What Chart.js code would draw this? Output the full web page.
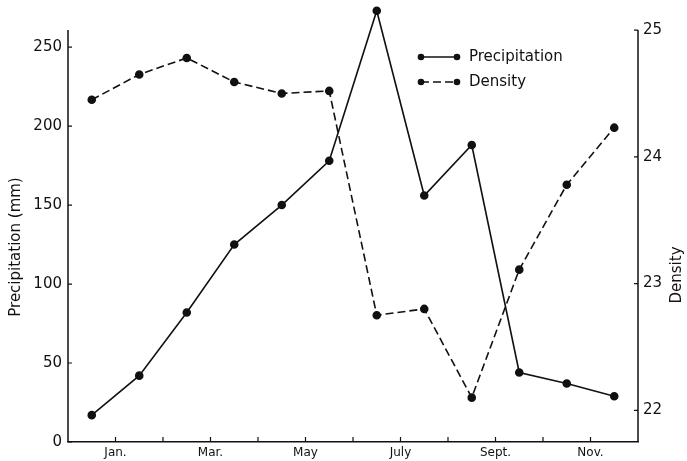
<!DOCTYPE html>
<html lang="en">
<head>
<meta charset="UTF-8">
<title>Precipitation and Density</title>
<script src="https://cdn.jsdelivr.net/npm/chart.js"></script>
<style>
  html, body { margin: 0; padding: 0; background: #fff; }
  #wrap { width: 687px; height: 461px; }
</style>
</head>
<body>
<div id="wrap"><canvas id="chart"></canvas></div>
<script>
// tick labels sit on month boundaries, points fall mid-month (Dec .. Nov)
const monthTicks = ['Jan.', '', 'Mar.', '', 'May', '', 'July', '', 'Sept.', '', 'Nov.'];
const precipitation = [17, 42, 82, 125, 150, 178, 273, 156, 188, 44, 37, 29];
const density = [24.45, 24.65, 24.78, 24.59, 24.50, 24.52, 22.75, 22.80, 22.10, 23.11, 23.78, 24.23];
const precipTicks = [0, 50, 100, 150, 200, 250];
const densityTicks = [22, 23, 24, 25];

const ink = '#111';
const axisTop = 25;   // density value where the drawn frame stops
Chart.defaults.font.family = "'DejaVu Sans', sans-serif";
Chart.defaults.color = ink;

const toPoints = arr => arr.map((v, i) => ({ x: i - 0.5, y: v }));

function sideTitle(ctx, text, x, y) {
    ctx.save();
    ctx.translate(x, y);
    ctx.rotate(-Math.PI / 2);
    ctx.fillText(text, 0, 0);
    ctx.restore();
}

// side axes, inward tick marks, axis titles and legend
const frame = {
    id: 'frame',
    afterDatasetsDraw(chart) {
        const ctx = chart.ctx;
        const { x, yP, yD } = chart.scales;
        const top = yD.getPixelForValue(axisTop);
        const bottom = chart.chartArea.bottom;
        ctx.save();
        ctx.strokeStyle = ink;
        ctx.lineWidth = 1.5;
        ctx.beginPath();
        ctx.moveTo(yP.right, top);
        ctx.lineTo(yP.right, bottom);
        ctx.moveTo(yD.left, top);
        ctx.lineTo(yD.left, bottom);
        ctx.stroke();

        ctx.lineWidth = 1.2;
        ctx.beginPath();
        x.ticks.forEach(t => {
            if (t.value < 0 || t.value > 10) return;
            const px = x.getPixelForValue(t.value);
            ctx.moveTo(px, x.top);
            ctx.lineTo(px, x.top - 5);
        });
        yP.ticks.forEach(t => {
            const py = yP.getPixelForValue(t.value);
            ctx.moveTo(yP.right, py);
            ctx.lineTo(yP.right + 4, py);
        });
        yD.ticks.forEach(t => {
            const py = yD.getPixelForValue(t.value);
            ctx.moveTo(yD.left, py);
            ctx.lineTo(yD.left - 4, py);
        });
        ctx.stroke();

        // axis titles, both reading upwards
        ctx.fillStyle = ink;
        ctx.font = "15px 'DejaVu Sans', sans-serif";
        ctx.textAlign = 'center';
        ctx.textBaseline = 'middle';
        sideTitle(ctx, 'Precipitation (mm)', 16, 247);
        sideTitle(ctx, 'Density', 677, 275);

        // legend
        ctx.textAlign = 'left';
        chart.data.datasets.forEach((ds, i) => {
            const ly = 57 + i * 25;
            const x0 = 421, x1 = 457;
            ctx.setLineDash(ds.borderDash || []);
            ctx.lineWidth = 1.5;
            ctx.beginPath();
            ctx.moveTo(x0, ly);
            ctx.lineTo(x1, ly);
            ctx.stroke();
            ctx.setLineDash([]);
            [x0, x1].forEach(px => {
                ctx.beginPath();
                ctx.arc(px, ly, 3.3, 0, Math.PI * 2);
                ctx.fill();
            });
            ctx.fillText(ds.label, 469, ly);
        });
        ctx.restore();
    }
};

new Chart(document.getElementById('chart'), {
    type: 'line',
    data: {
        datasets: [{
            label: 'Precipitation',
            data: toPoints(precipitation),
            yAxisID: 'yP',
            borderColor: ink,
            backgroundColor: ink,
            borderWidth: 1.6,
            pointRadius: 3.5,
            pointBackgroundColor: ink,
            tension: 0
        }, {
            label: 'Density',
            data: toPoints(density),
            yAxisID: 'yD',
            borderColor: ink,
            backgroundColor: ink,
            borderWidth: 1.6,
            borderDash: [8, 4],
            pointRadius: 3.5,
            pointBackgroundColor: ink,
            tension: 0
        }]
    },
    options: {
        responsive: true,
        maintainAspectRatio: false,
        animation: false,
        layout: { padding: { top: 6, left: 0, right: 0, bottom: 0 } },
        plugins: {
            legend: { display: false },
            tooltip: { enabled: false }
        },
        scales: {
            x: {
                type: 'linear',
                min: -1,
                max: 11,
                grid: { display: false, drawTicks: false },
                border: { display: true, color: ink, width: 1.5 },
                ticks: {
                    stepSize: 1,
                    autoSkip: false,
                    maxRotation: 0,
                    padding: 4,
                    font: { size: 12 },
                    callback: v => monthTicks[v] || ''
                },
                afterFit: s => { s.height = 19; s.paddingLeft = 0; s.paddingRight = 0; }
            },
            yP: {
                position: 'left',
                min: 0,
                max: 276,
                grid: { display: false, drawTicks: false },
                border: { display: false },
                ticks: { padding: 6, font: { size: 15 } },
                afterBuildTicks: s => { s.ticks = precipTicks.map(v => ({ value: v })); },
                afterFit: s => { s.width = 68; s.paddingTop = 0; s.paddingBottom = 0; }
            },
            yD: {
                position: 'right',
                min: 21.75,
                max: 25.19,
                grid: { display: false, drawTicks: false },
                border: { display: false },
                ticks: { padding: 5, font: { size: 15 } },
                afterBuildTicks: s => { s.ticks = densityTicks.map(v => ({ value: v })); },
                afterFit: s => { s.width = 49; s.paddingTop = 0; s.paddingBottom = 0; }
            }
        }
    },
    plugins: [frame]
});
</script>
</body>
</html>
